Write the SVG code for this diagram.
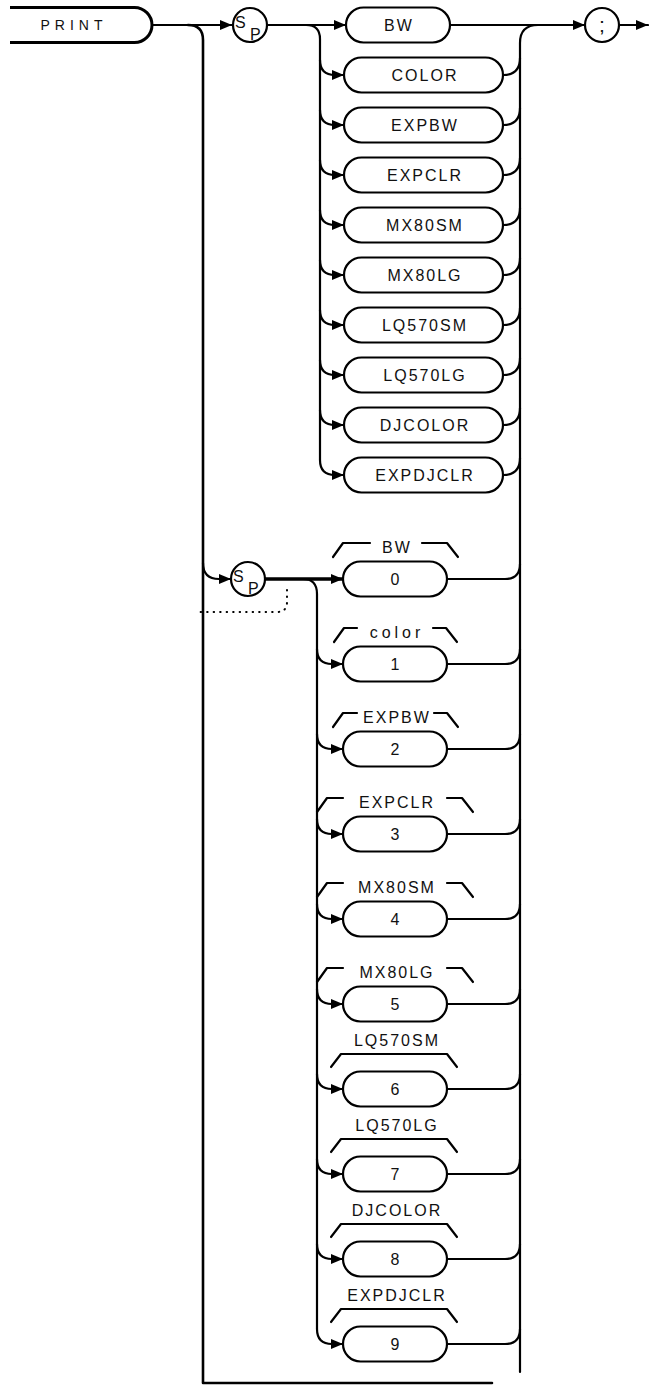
<svg xmlns="http://www.w3.org/2000/svg" width="649" height="1385" viewBox="0 0 649 1385">
<defs>
<marker id="ah" markerWidth="12" markerHeight="10" refX="12" refY="5" orient="auto" markerUnits="userSpaceOnUse"><path d="M0,0 L12,5 L0,10 z" fill="#000"/></marker>
<style>
.ln{fill:none;stroke:#000;stroke-width:2.2;stroke-linecap:round;stroke-linejoin:round}
.arr{marker-end:url(#ah)}
.box{fill:#fff;stroke:#000;stroke-width:2.2}
.t{font-family:"Liberation Sans",Arial,sans-serif;font-size:16px;fill:#111;text-anchor:middle;letter-spacing:2px}
.lb{font-family:"Liberation Sans",Arial,sans-serif;font-size:16px;fill:#111;text-anchor:middle;letter-spacing:2px}
.sp{font-family:"Liberation Sans",Arial,sans-serif;font-size:16px;fill:#111}
.dot{fill:none;stroke:#000;stroke-width:2;stroke-linecap:round;stroke-dasharray:0.5 6}
</style>
</defs>

<g id="connectors">
<path class="ln arr" d="M152 25 L232 25"/>
<path class="ln arr" d="M267 25 L346 25"/>
<path class="ln arr" d="M450 25 L585 25"/>
<path class="ln arr" d="M619 25 L648 25"/>
<path class="ln" d="M188 25 Q203 25 203 40 L203 1383 L492 1383" style="stroke-width:2.6"/>
<path class="ln" d="M306 25 Q320 25 320 39 L320 460"/>
<path class="ln" d="M538 25 Q520 25 520 43 L520 1372"/>
<path class="ln arr" d="M320 60 Q320 75 335 75 L344 75"/>
<path class="ln arr" d="M320 110 Q320 125 335 125 L344 125"/>
<path class="ln arr" d="M320 160 Q320 175 335 175 L344 175"/>
<path class="ln arr" d="M320 210 Q320 225 335 225 L344 225"/>
<path class="ln arr" d="M320 260 Q320 275 335 275 L344 275"/>
<path class="ln arr" d="M320 310 Q320 325 335 325 L344 325"/>
<path class="ln arr" d="M320 360 Q320 375 335 375 L344 375"/>
<path class="ln arr" d="M320 410 Q320 425 335 425 L344 425"/>
<path class="ln arr" d="M320 460 Q320 475 335 475 L344 475"/>
<path class="ln" d="M503 75 Q520 75 520 58"/>
<path class="ln" d="M503 125 Q520 125 520 108"/>
<path class="ln" d="M503 175 Q520 175 520 158"/>
<path class="ln" d="M503 225 Q520 225 520 208"/>
<path class="ln" d="M503 275 Q520 275 520 258"/>
<path class="ln" d="M503 325 Q520 325 520 308"/>
<path class="ln" d="M503 375 Q520 375 520 358"/>
<path class="ln" d="M503 425 Q520 425 520 408"/>
<path class="ln" d="M503 475 Q520 475 520 458"/>
<path class="ln arr" d="M203 563 Q203 579 219 579 L231 579"/>
<path class="ln arr" d="M265 579 L343 579" style="stroke-width:3.4"/>
<path class="dot" d="M287 590 L287 602 Q287 612 277 612 L197 612"/>
<path class="ln" d="M303 579 Q317 579 317 594 L317 1329"/>
<path class="ln arr" d="M317 649 Q317 664 332 664 L343 664"/>
<path class="ln arr" d="M317 734 Q317 749 332 749 L343 749"/>
<path class="ln arr" d="M317 819 Q317 834 332 834 L343 834"/>
<path class="ln arr" d="M317 904 Q317 919 332 919 L343 919"/>
<path class="ln arr" d="M317 989 Q317 1004 332 1004 L343 1004"/>
<path class="ln arr" d="M317 1074 Q317 1089 332 1089 L343 1089"/>
<path class="ln arr" d="M317 1159 Q317 1174 332 1174 L343 1174"/>
<path class="ln arr" d="M317 1244 Q317 1259 332 1259 L343 1259"/>
<path class="ln arr" d="M317 1329 Q317 1344 332 1344 L343 1344"/>
<path class="ln" d="M447 579 L505 579 Q520 579 520 564"/>
<path class="ln" d="M447 664 L505 664 Q520 664 520 649"/>
<path class="ln" d="M447 749 L505 749 Q520 749 520 734"/>
<path class="ln" d="M447 834 L505 834 Q520 834 520 819"/>
<path class="ln" d="M447 919 L505 919 Q520 919 520 904"/>
<path class="ln" d="M447 1004 L505 1004 Q520 1004 520 989"/>
<path class="ln" d="M447 1089 L505 1089 Q520 1089 520 1074"/>
<path class="ln" d="M447 1174 L505 1174 Q520 1174 520 1159"/>
<path class="ln" d="M447 1259 L505 1259 Q520 1259 520 1244"/>
<path class="ln" d="M447 1344 L505 1344 Q520 1344 520 1329"/>
</g>

<g id="print">
<path d="M10 7.5 L134.5 7.5 A17.5 17.5 0 0 1 134.5 42.5 L10 42.5" fill="#fff" stroke="#000" stroke-width="3"/>
<text class="t" x="74" y="30" style="font-size:14px;letter-spacing:5px">PRINT</text>
</g>

<g id="sp1">
<circle cx="250" cy="25" r="17" fill="#fff" stroke="#000" stroke-width="2.2"/>
<text class="sp" x="235" y="28">S</text>
<text class="sp" x="250" y="40">P</text>
</g>

<g id="semicolon">
<circle cx="602" cy="25" r="17" fill="#fff" stroke="#000" stroke-width="2.2"/>
<text class="t" x="602" y="32" style="font-size:21px;letter-spacing:0">;</text>
</g>

<g id="top-options">
<g id="opt-BW"><rect class="box" x="346" y="7.5" width="104" height="35" rx="17.5"/><text class="t" x="399" y="31">BW</text></g>
<g id="opt-COLOR"><rect class="box" x="344" y="57.5" width="159" height="35" rx="17.5"/><text class="t" x="425" y="81">COLOR</text></g>
<g id="opt-EXPBW"><rect class="box" x="344" y="107.5" width="159" height="35" rx="17.5"/><text class="t" x="425" y="131">EXPBW</text></g>
<g id="opt-EXPCLR"><rect class="box" x="344" y="157.5" width="159" height="35" rx="17.5"/><text class="t" x="425" y="181">EXPCLR</text></g>
<g id="opt-MX80SM"><rect class="box" x="344" y="207.5" width="159" height="35" rx="17.5"/><text class="t" x="425" y="231">MX80SM</text></g>
<g id="opt-MX80LG"><rect class="box" x="344" y="257.5" width="159" height="35" rx="17.5"/><text class="t" x="425" y="281">MX80LG</text></g>
<g id="opt-LQ570SM"><rect class="box" x="344" y="307.5" width="159" height="35" rx="17.5"/><text class="t" x="425" y="331">LQ570SM</text></g>
<g id="opt-LQ570LG"><rect class="box" x="344" y="357.5" width="159" height="35" rx="17.5"/><text class="t" x="425" y="381">LQ570LG</text></g>
<g id="opt-DJCOLOR"><rect class="box" x="344" y="407.5" width="159" height="35" rx="17.5"/><text class="t" x="425" y="431">DJCOLOR</text></g>
<g id="opt-EXPDJCLR"><rect class="box" x="344" y="457.5" width="159" height="35" rx="17.5"/><text class="t" x="425" y="481">EXPDJCLR</text></g>
</g>

<g id="sp2">
<circle cx="248" cy="579" r="17" fill="#fff" stroke="#000" stroke-width="2.2"/>
<text class="sp" x="233" y="582">S</text>
<text class="sp" x="248" y="594">P</text>
</g>

<g id="num-options">
<g id="num-0"><path class="ln" d="M333 557 L343 543 L370 543 M422 543 L447 543 L458 557"/><text class="lb" x="397" y="553">BW</text><rect class="box" x="343" y="561.5" width="104" height="35" rx="17.5"/><text class="t" x="396" y="585">0</text></g>
<g id="num-1"><path class="ln" d="M334 642 L344 628 L357 628 M433 628 L446 628 L457 642"/><text class="lb" x="397" y="638" style="letter-spacing:4px">color</text><rect class="box" x="343" y="646.5" width="104" height="35" rx="17.5"/><text class="t" x="396" y="670">1</text></g>
<g id="num-2"><path class="ln" d="M333 727 L343 713 L357 713 M434 713 L447 713 L458 727"/><text class="lb" x="397" y="723">EXPBW</text><rect class="box" x="343" y="731.5" width="104" height="35" rx="17.5"/><text class="t" x="396" y="755">2</text></g>
<g id="num-3"><path class="ln" d="M317 812 L327 798 L343 798 M447 798 L462 798 L473 812"/><text class="lb" x="397" y="808">EXPCLR</text><rect class="box" x="343" y="816.5" width="104" height="35" rx="17.5"/><text class="t" x="396" y="840">3</text></g>
<g id="num-4"><path class="ln" d="M317 897 L327 883 L343 883 M447 883 L462 883 L473 897"/><text class="lb" x="397" y="893">MX80SM</text><rect class="box" x="343" y="901.5" width="104" height="35" rx="17.5"/><text class="t" x="396" y="925">4</text></g>
<g id="num-5"><path class="ln" d="M317 982 L327 968 L343 968 M447 968 L462 968 L473 982"/><text class="lb" x="397" y="978">MX80LG</text><rect class="box" x="343" y="986.5" width="104" height="35" rx="17.5"/><text class="t" x="396" y="1010">5</text></g>
<g id="num-6"><path class="ln" d="M331 1067 L341 1054 L447 1054 L457 1067"/><text class="lb" x="397" y="1046">LQ570SM</text><rect class="box" x="343" y="1071.5" width="104" height="35" rx="17.5"/><text class="t" x="396" y="1095">6</text></g>
<g id="num-7"><path class="ln" d="M331 1152 L341 1139 L447 1139 L457 1152"/><text class="lb" x="397" y="1131">LQ570LG</text><rect class="box" x="343" y="1156.5" width="104" height="35" rx="17.5"/><text class="t" x="396" y="1180">7</text></g>
<g id="num-8"><path class="ln" d="M331 1237 L341 1224 L447 1224 L457 1237"/><text class="lb" x="397" y="1216">DJCOLOR</text><rect class="box" x="343" y="1241.5" width="104" height="35" rx="17.5"/><text class="t" x="396" y="1265">8</text></g>
<g id="num-9"><path class="ln" d="M331 1322 L341 1309 L447 1309 L457 1322"/><text class="lb" x="397" y="1301">EXPDJCLR</text><rect class="box" x="343" y="1326.5" width="104" height="35" rx="17.5"/><text class="t" x="396" y="1350">9</text></g>
</g>
</svg>
